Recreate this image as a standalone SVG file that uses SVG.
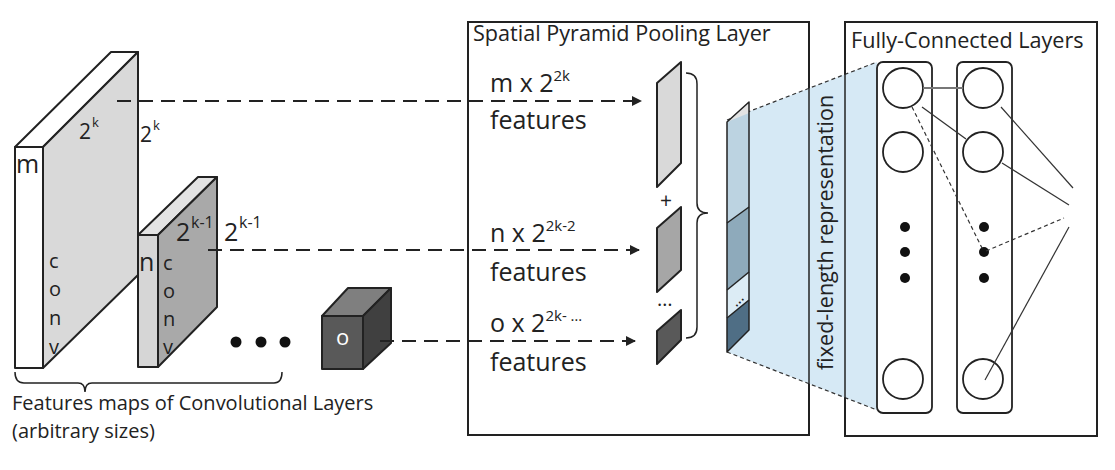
<svg xmlns="http://www.w3.org/2000/svg" width="1115" height="470" viewBox="0 0 1115 470">
<style>
text{font-family:"Open Sans","Liberation Sans",sans-serif;fill:#222}
.edge{stroke:#222;stroke-width:2;stroke-linejoin:round}
.thin{stroke:#222;stroke-width:1.5;fill:none}
.dash{stroke:#222;stroke-width:2.2;fill:none;stroke-dasharray:14 8}
.fc{stroke:#333;stroke-width:1.2;fill:none}
.fcd{stroke:#333;stroke-width:1.2;fill:none;stroke-dasharray:4 3}
.lbl{font-size:25px}
.sup{font-size:15px}
.cv{font-size:20px}
.ttl{font-size:21.6px}
</style>
<defs>
<marker id="arr" markerWidth="10" markerHeight="10" refX="9" refY="5" orient="auto" markerUnits="userSpaceOnUse">
<path d="M0,0 L10,5 L0,10 z" fill="#222"/>
</marker>
</defs>

<!-- boxes -->
<g id="spp-box">
<rect x="468" y="22" width="341" height="413" fill="none" stroke="#222" stroke-width="2"/>
<text x="473" y="41" class="ttl">Spatial Pyramid Pooling Layer</text>
</g>
<g id="fc-box">
<rect x="845" y="22" width="252" height="414" fill="none" stroke="#222" stroke-width="2"/>
<text x="851" y="48" class="ttl">Fully-Connected Layers</text>
</g>

<!-- blue projection -->
<g id="projection">
<polygon points="727,120 877,62 877,410 727,352" fill="#d6e9f5"/>
<line x1="727" y1="120" x2="877" y2="62" class="fcd" stroke-dasharray="3 2"/>
<line x1="727" y1="352" x2="877" y2="410" class="fcd" stroke-dasharray="3 2"/>
<line x1="809" y1="22" x2="809" y2="435" stroke="#222" stroke-width="1.5"/>
<line x1="845" y1="22" x2="845" y2="436" stroke="#222" stroke-width="1.5"/>
</g>

<!-- big slab -->
<g id="slab-m">
<polygon points="15,147 43,147 138,52 111,52" fill="#fff" class="edge"/>
<polygon points="43,147 138,52 138,275 43,368" fill="#d9d9d9" class="edge"/>
<rect x="15" y="147" width="28" height="221" fill="#fff" class="edge"/>
<text x="16" y="173" font-size="25">m</text>
<text x="79" y="139" font-size="21">2</text><text x="92" y="127" font-size="13">k</text>
<text x="140" y="142" font-size="21">2</text><text x="153" y="130" font-size="13">k</text>
<text x="49" y="268" class="cv">c</text>
<text x="49" y="296" class="cv">o</text>
<text x="49" y="325" class="cv">n</text>
<text x="49" y="354" class="cv">v</text>
</g>

<!-- small slab -->
<g id="slab-n">
<polygon points="138,235 158,235 217,177 198,177" fill="#e3e3e3" class="edge"/>
<polygon points="158,235 217,177 217,307 158,367" fill="#a9a9a9" class="edge"/>
<rect x="138" y="235" width="20" height="132" fill="#d6d6d6" class="edge"/>
<text x="139" y="271" font-size="25">n</text>
<text x="176" y="241" font-size="25">2</text><text x="191" y="228" font-size="16">k-1</text>
<text x="224" y="241" font-size="25">2</text><text x="239" y="228" font-size="16">k-1</text>
<text x="163" y="270" class="cv">c</text>
<text x="163" y="298" class="cv">o</text>
<text x="163" y="326" class="cv">n</text>
<text x="163" y="354" class="cv">v</text>
</g>

<g id="ellipsis">
<circle cx="236" cy="342" r="5.5" fill="#111"/>
<circle cx="261" cy="342" r="5.5" fill="#111"/>
<circle cx="285" cy="342" r="5.5" fill="#111"/>
</g>

<!-- cube -->
<g id="cube-o">
<polygon points="322,316 348,288 391,288 363,316" fill="#7f7f7f" class="edge"/>
<polygon points="363,316 391,288 391,343 363,369" fill="#404040" class="edge"/>
<rect x="322" y="316" width="41" height="53" fill="#595959" class="edge"/>
<text x="336" y="345" font-size="22" style="fill:#fff">o</text>
</g>

<g id="conv-brace">
<path d="M15,372 Q15,383 24,383 L78,383 Q85,383 85,392 Q85,383 92,383 L274,383 Q282,383 282,372" class="thin"/>
<text x="12" y="410" font-size="20">Features maps of Convolutional Layers</text>
<text x="12" y="438" font-size="20">(arbitrary sizes)</text>
</g>

<!-- connectors -->
<g id="connectors">
<line x1="117" y1="101" x2="641" y2="101" class="dash" marker-end="url(#arr)"/>
<line x1="208" y1="250" x2="639" y2="250" class="dash" marker-end="url(#arr)"/>
<line x1="380" y1="341" x2="635" y2="341" class="dash" marker-end="url(#arr)"/>
</g>

<g id="labels">
<text x="490" y="92" class="lbl">m x 2<tspan dy="-11" class="sup">2k</tspan></text>
<text x="490" y="129" class="lbl">features</text>
<text x="490" y="242" class="lbl">n x 2<tspan dy="-11" class="sup">2k-2</tspan></text>
<text x="490" y="281" class="lbl">features</text>
<text x="490" y="332" class="lbl">o x 2<tspan dy="-11" class="sup">2k- …</tspan></text>
<text x="490" y="371" class="lbl">features</text>
</g>

<!-- pooled features -->
<g id="pool-1"><polygon points="657,83 681,62 681,163 657,187" fill="#d9d9d9" class="edge"/></g>
<g id="pool-2"><polygon points="657,228 681,207 681,270 657,292" fill="#a6a6a6" class="edge"/></g>
<g id="pool-3"><polygon points="657,331 681,310 681,340 657,364" fill="#595959" class="edge"/></g>
<text x="660" y="208" font-size="21">+</text>
<text x="657" y="306" font-size="20">…</text>
<g id="spp-brace">
<path d="M686,73 Q697,73 697,84 L697,203 Q697,213 708,213 Q697,213 697,223 L697,327 Q697,338 686,338" class="thin"/>
</g>

<!-- fixed-length vector -->
<g id="vector">
<polygon points="727,122 749,102 749,207 727,223" fill="#bcd3e1"/>
<polygon points="727,122 749,102 749,113" fill="#e3e3e3"/>
<polygon points="727,223 749,207 749,272 727,290" fill="#8eaabb"/>
<polygon points="727,290 749,272 749,300 727,318" fill="#dcecf5"/>
<polygon points="727,318 749,300 749,330 727,352" fill="#4f6e85"/>
<polygon points="727,122 749,102 749,330 727,352" fill="none" stroke="#222" stroke-width="1.5" stroke-linejoin="round"/>
<line x1="727" y1="223" x2="749" y2="207" stroke="#222" stroke-width="1.5"/>
<line x1="727" y1="290" x2="749" y2="272" stroke="#222" stroke-width="1.5"/>
<line x1="727" y1="318" x2="749" y2="300" stroke="#222" stroke-width="1.5"/>
<text x="729" y="303" font-size="16" transform="rotate(-45 738 297)">…</text>
</g>
<text x="0" y="0" font-size="21.6" transform="translate(833 370) rotate(-90)">fixed-length representation</text>

<!-- FC layers -->
<g id="fc-col-1">
<rect x="877" y="62" width="55" height="351" rx="6" fill="#fff" stroke="#222" stroke-width="1.8"/>
<circle cx="903" cy="88" r="20" fill="none" stroke="#222" stroke-width="1.8"/>
<circle cx="903" cy="152" r="20" fill="none" stroke="#222" stroke-width="1.8"/>
<circle cx="903" cy="379" r="20" fill="none" stroke="#222" stroke-width="1.8"/>
<circle cx="905" cy="227" r="5" fill="#111"/>
<circle cx="905" cy="252" r="5" fill="#111"/>
<circle cx="905" cy="278" r="5" fill="#111"/>
</g>
<g id="fc-col-2">
<rect x="957" y="62" width="55" height="351" rx="6" fill="#fff" stroke="#222" stroke-width="1.8"/>
<circle cx="983" cy="88" r="20" fill="none" stroke="#222" stroke-width="1.8"/>
<circle cx="983" cy="152" r="20" fill="none" stroke="#222" stroke-width="1.8"/>
<circle cx="983" cy="379" r="20" fill="none" stroke="#222" stroke-width="1.8"/>
<circle cx="984" cy="227" r="5" fill="#111"/>
<circle cx="984" cy="252" r="5" fill="#111"/>
<circle cx="984" cy="278" r="5" fill="#111"/>
</g>
<g id="fc-connectors">
<line x1="923" y1="88" x2="963" y2="88" stroke="#777" stroke-width="2"/>
<line x1="922" y1="107" x2="966" y2="139" class="fc"/>
<line x1="912" y1="107" x2="983" y2="250" class="fcd"/>
<line x1="986" y1="251" x2="1064" y2="218" class="fcd"/>
<line x1="1001" y1="107" x2="1073" y2="188" class="fc"/>
<line x1="1002" y1="163" x2="1069" y2="205" class="fc"/>
<line x1="1069" y1="227" x2="985" y2="380" class="fc"/>
</g>
</svg>
